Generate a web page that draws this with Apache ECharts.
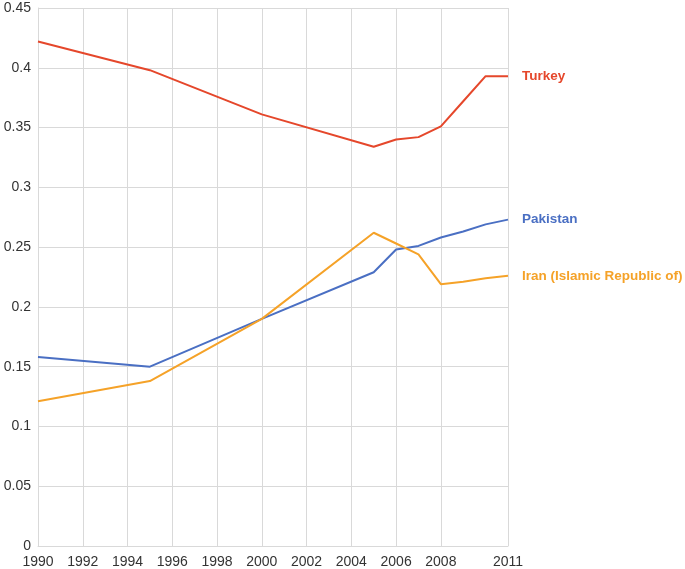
<!DOCTYPE html>
<html><head><meta charset="utf-8">
<script src="https://cdn.jsdelivr.net/npm/echarts@6/dist/echarts.min.js"></script>
<style>html,body{margin:0;padding:0;background:#fff}#c{width:685px;height:569px}</style>
</head><body><div id="c"></div>
<script>
const years = ['1990','1991','1992','1993','1994','1995','1996','1997','1998','1999','2000','2001','2002','2003','2004','2005','2006','2007','2008','2009','2010','2011'];
const labeledYears = ['1990','1992','1994','1996','1998','2000','2002','2004','2006','2008','2011'];
const turkey   = [0.422,null,null,null,null,0.398,null,null,null,null,0.361,null,null,null,null,0.334,0.340,0.342,0.351,0.372,0.393,0.393];
const pakistan = [0.158,null,null,null,null,0.150,null,null,null,null,0.190,null,null,null,null,0.229,0.248,0.251,0.258,0.263,0.269,0.273];
const iran     = [0.121,null,null,null,null,0.138,null,null,null,null,0.190,null,null,null,null,0.262,0.253,0.244,0.219,0.221,0.224,0.226];
const yTicks = {min:0, max:0.45, interval:0.05};

const font = "'Liberation Sans', Arial, sans-serif";
function mk(name, data, color){
  return {name, type:'line', data, connectNulls:true, symbol:'none',
    lineStyle:{width:2, color}, itemStyle:{color},
    endLabel:{show:true, formatter:name, color, fontFamily:font, fontSize:13.5, fontWeight:'bold', distance:14},
    emphasis:{disabled:true}, animation:false};
}
const chart = echarts.init(document.getElementById('c'));
chart.setOption({
  animation:false,
  grid:{left:38, right:177, top:8, bottom:22, containLabel:false},
  xAxis:{type:'category', data:years, boundaryGap:false,
    axisLine:{show:true, lineStyle:{color:'#d9d9d9', width:1}},
    axisTick:{show:false},
    axisLabel:{interval:(i,v)=>labeledYears.includes(v), color:'#333', fontFamily:font, fontSize:14, margin:9, showMaxLabel:true},
    splitLine:{show:true, interval:(i,v)=>labeledYears.includes(v), lineStyle:{color:'#d9d9d9', width:1}}
  },
  yAxis:{type:'value', min:yTicks.min, max:yTicks.max, interval:yTicks.interval,
    axisLine:{show:true, lineStyle:{color:'#d9d9d9'}},
    axisTick:{show:false},
    axisLabel:{color:'#333', fontFamily:font, fontSize:14, margin:7},
    splitLine:{show:true, lineStyle:{color:'#d9d9d9', width:1}}
  },
  series:[mk('Turkey', turkey, '#E5472B'), mk('Pakistan', pakistan, '#4A6FC3'), mk('Iran (Islamic Republic of)', iran, '#F5A228')]
});
</script></body></html>
